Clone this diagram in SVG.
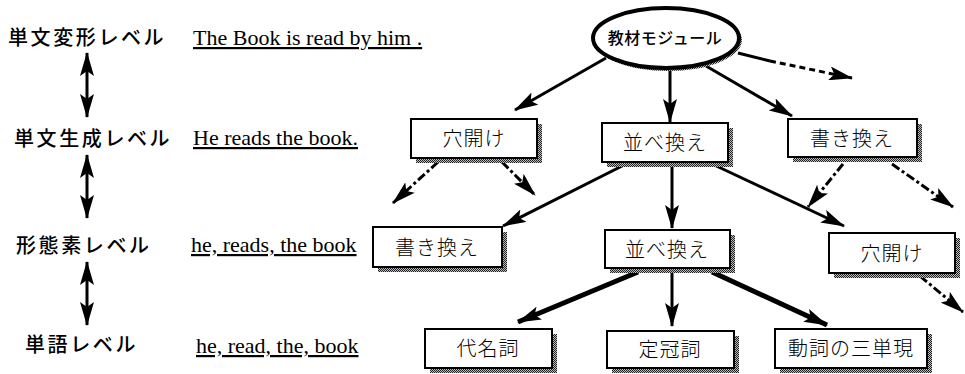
<svg xmlns="http://www.w3.org/2000/svg" width="965" height="374" viewBox="0 0 965 374">
<style>
.lvl{font-family:"Noto Sans CJK JP","Noto Sans",sans-serif;font-size:20px;font-weight:500;fill:#000;letter-spacing:2.6px}
.en{font-family:"Liberation Serif",serif;font-size:22px;fill:#000;text-decoration:underline}
.box{fill:#fff;stroke:#000;stroke-width:2}
.sh{fill:url(#dith)}
.bt{font-family:"Noto Sans CJK JP",sans-serif;font-size:20px;font-weight:300;fill:#000;text-anchor:middle;letter-spacing:1px}
.c{fill:none;stroke:#000;stroke-width:3;marker-end:url(#ah)}
.thick{stroke-width:5}
.dd{stroke-dasharray:9 3 3 3}
.dash{stroke-dasharray:6 4}
.dbl{fill:none;stroke:#000;stroke-width:3;marker-start:url(#ah);marker-end:url(#ah)}
</style>
<defs>
<pattern id="dith" width="2" height="2" patternUnits="userSpaceOnUse">
<rect width="2" height="2" fill="#bbb"/>
<rect width="1" height="1" fill="#222"/>
<rect x="1" y="1" width="1" height="1" fill="#222"/>
</pattern>
<marker id="ah" viewBox="0 0 24 14" refX="23" refY="7" markerWidth="24" markerHeight="14" markerUnits="userSpaceOnUse" orient="auto-start-reverse">
<path d="M0,0 L24,7 L0,14 L5,7 z" fill="#000"/>
</marker>
</defs>
<rect width="965" height="374" fill="#fff"/>

<g id="levels">
<text class="lvl" x="8" y="45">単文変形レベル</text>
<text class="lvl" x="14" y="146">単文生成レベル</text>
<text class="lvl" x="16" y="253">形態素レベル</text>
<text class="lvl" x="25" y="352">単語レベル</text>
</g>
<g id="examples">
<text class="en" x="193" y="45">The Book is read by him .</text>
<text class="en" x="193" y="145">He reads the book.</text>
<text class="en" x="191" y="252">he, reads, the book</text>
<text class="en" x="196" y="353">he, read, the, book</text>
</g>

<g id="connectors">
<line class="dbl" x1="87" y1="53" x2="87" y2="117"/>
<line class="dbl" x1="87" y1="155" x2="87" y2="218"/>
<line class="dbl" x1="87" y1="262" x2="87" y2="325"/>
<line class="c" x1="606" y1="58" x2="515" y2="110"/>
<line class="c" x1="670" y1="70" x2="670" y2="122"/>
<line class="c" x1="706" y1="66" x2="792" y2="116"/>
<line x1="738" y1="53" x2="770" y2="61" stroke="#000" stroke-width="3"/>
<line class="c dash" x1="770" y1="61" x2="852" y2="78"/>
<line class="c dd" x1="438" y1="162" x2="393" y2="203"/>
<line class="c dd" x1="502" y1="162" x2="535" y2="195"/>
<line class="c" x1="628" y1="163" x2="503" y2="226"/>
<line class="c" x1="672" y1="163" x2="672" y2="228"/>
<line class="c" x1="710" y1="163" x2="844" y2="226"/>
<line class="c dd" x1="843" y1="164" x2="808" y2="207"/>
<line class="c dd" x1="892" y1="164" x2="953" y2="207"/>
<line class="c thick" x1="638" y1="272" x2="518" y2="322"/>
<line class="c" x1="672" y1="269" x2="672" y2="326"/>
<line class="c thick" x1="712" y1="272" x2="827" y2="325"/>
<line class="c dd" x1="920" y1="276" x2="963" y2="312"/>
</g>

<g id="module">
<ellipse cx="668" cy="40" rx="74" ry="31" fill="url(#dith)"/>
<ellipse cx="666" cy="38" rx="73" ry="30" fill="#fff" stroke="#000" stroke-width="4"/>
<text x="665" y="44" font-family="Noto Sans CJK JP,sans-serif" font-size="16" font-weight="500" text-anchor="middle" letter-spacing="0.5">教材モジュール</text>
</g>

<g id="anaake1">
<rect class="sh" x="416" y="124" width="126" height="39"/>
<rect class="box" x="411" y="119" width="126" height="39"/>
<text class="bt" x="474" y="146">穴開け</text>
</g>
<g id="narabe1">
<rect class="sh" x="607" y="128" width="126" height="39"/>
<rect class="box" x="602" y="123" width="126" height="39"/>
<text class="bt" x="665" y="150">並べ換え</text>
</g>
<g id="kakikae1">
<rect class="sh" x="793" y="124" width="129" height="38"/>
<rect class="box" x="788" y="119" width="129" height="38"/>
<text class="bt" x="852" y="146">書き換え</text>
</g>
<g id="kakikae2">
<rect class="sh" x="378" y="232" width="129" height="40"/>
<rect class="box" x="373" y="227" width="129" height="40"/>
<text class="bt" x="437" y="255">書き換え</text>
</g>
<g id="narabe2">
<rect class="sh" x="610" y="235" width="125" height="38"/>
<rect class="box" x="605" y="230" width="125" height="38"/>
<text class="bt" x="667" y="257">並べ換え</text>
</g>
<g id="anaake2">
<rect class="sh" x="834" y="238" width="126" height="40"/>
<rect class="box" x="829" y="233" width="126" height="40"/>
<text class="bt" x="892" y="261">穴開け</text>
</g>
<g id="daimeishi">
<rect class="sh" x="430" y="334" width="127" height="39"/>
<rect class="box" x="425" y="329" width="127" height="39"/>
<text class="bt" x="488" y="356">代名詞</text>
</g>
<g id="teikanshi">
<rect class="sh" x="612" y="336" width="127" height="37"/>
<rect class="box" x="607" y="331" width="127" height="37"/>
<text class="bt" x="670" y="357">定冠詞</text>
</g>
<g id="santangen">
<rect class="sh" x="780" y="334" width="152" height="39"/>
<rect class="box" x="775" y="329" width="152" height="39"/>
<text class="bt" x="851" y="356" letter-spacing="0">動詞の三単現</text>
</g>
</svg>
